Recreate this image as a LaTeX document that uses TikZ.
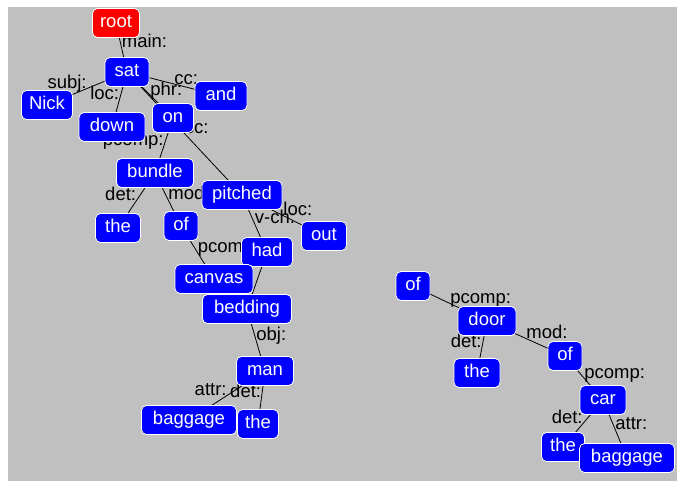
\documentclass[tikz,border=0pt]{standalone}
\usepackage{fontspec}
\setmainfont{Liberation Sans}
\newcommand{\dgfont}{\fontsize{18.5}{20}\selectfont}
\definecolor{graybg}{RGB}{192,192,192}
\pgfdeclarelayer{edgelayer}
\pgfsetlayers{edgelayer,main}
\begin{document}
\begin{tikzpicture}[x=1pt,y=-1pt,
  wn/.style={draw=white, line width=0.8pt, fill=blue, text=white, rounded corners=5pt,
    minimum height=29pt, inner sep=0pt, text height=13pt, text depth=4pt, font=\dgfont},
  rn/.style={wn, fill=red},
  lbl/.style={inner sep=0pt, text=black, font=\dgfont},
  lr/.style={lbl, midway, anchor=base west},
  ll/.style={lbl, midway, anchor=base east},
  ln/.style={black, line width=0.8pt}]
\begin{pgfonlayer}{edgelayer}
\fill[white] (0,0) rectangle (679,485);
\fill[graybg] (8,7) rectangle (677,481);
\end{pgfonlayer}
\useasboundingbox (0,0) rectangle (679,485);
% left tree
\node[rn, minimum width=47pt] (root) at (116,23) {root};
\node[wn, minimum width=44pt] (sat) at (127,72) {sat};
\node[wn, minimum width=51pt] (nick) at (47,105) {Nick};
\node[wn, minimum width=66pt] (down) at (112,127) {down};
\node[wn, minimum width=41pt] (on) at (173,118) {on};
\node[wn, minimum width=52pt] (and) at (221,96) {and};
\node[wn, minimum width=77pt] (bundle) at (155,173) {bundle};
\node[wn, minimum width=45pt] (theA) at (118,228) {the};
\node[wn, minimum width=34pt] (ofA) at (181,226) {of};
\node[wn, minimum width=80pt] (pitched) at (242,195) {pitched};
\node[wn, minimum width=45pt] (out) at (324,236) {out};
\node[wn, minimum width=51pt] (had) at (267,252) {had};
\node[wn, minimum width=78pt] (canvas) at (214,279) {canvas};
\node[wn, minimum width=89pt] (bedding) at (247,309) {bedding};
\node[wn, minimum width=57pt] (man) at (265,371) {man};
\node[wn, minimum width=95pt] (bagA) at (189,420) {baggage};
\node[wn, minimum width=41pt] (theB) at (258,424) {the};
% right tree
\node[wn, minimum width=34pt] (ofB) at (413,286) {of};
\node[wn, minimum width=58pt] (door) at (487,321) {door};
\node[wn, minimum width=46pt] (theC) at (477,373) {the};
\node[wn, minimum width=34pt] (ofC) at (565,356) {of};
\node[wn, minimum width=46pt] (car) at (603,400) {car};
\node[wn, minimum width=43pt] (theD) at (563,447) {the};
\node[wn, minimum width=95pt] (bagB) at (627,458) {baggage};
\begin{pgfonlayer}{edgelayer}
\draw[ln] (root.center) -- node[lr]{main:} (sat.center);
\draw[ln] (sat.center) -- node[ll]{subj:} (nick.center);
\draw[ln] (sat.center) -- node[ll]{loc:} (down.center);
\draw[ln] (sat.center) -- node[lr]{phr:} (on.center);
\draw[ln] (sat.center) -- node[lr]{cc:} (and.center);
\draw[ln] (sat.center) -- node[lr]{sc:} (pitched.center);
\draw[ln] (on.center) -- node[ll]{pcomp:} (bundle.center);
\draw[ln] (bundle.center) -- node[ll]{det:} (theA.center);
\draw[ln] (bundle.center) -- node[lr]{mod:} (ofA.center);
\draw[ln] (ofA.center) -- node[lr]{pcomp:} (canvas.center);
\draw[ln] (pitched.center) -- node[lr]{v-ch:} (had.center);
\draw[ln] (pitched.center) -- node[lr]{loc:} (out.center);
\draw[ln] (had.center) -- (bedding.center);
\draw[ln] (bedding.center) -- node[lr]{obj:} (man.center);
\draw[ln] (man.center) -- node[ll]{attr:} (bagA.center);
\draw[ln] (man.center) -- node[ll]{det:} (theB.center);
\draw[ln] (ofB.center) -- node[lr]{pcomp:} (door.center);
\draw[ln] (door.center) -- node[ll]{det:} (theC.center);
\draw[ln] (door.center) -- node[lr]{mod:} (ofC.center);
\draw[ln] (ofC.center) -- node[lr]{pcomp:} (car.center);
\draw[ln] (car.center) -- node[ll]{det:} (theD.center);
\draw[ln] (car.center) -- node[lr]{attr:} (bagB.center);
\end{pgfonlayer}
\end{tikzpicture}
\end{document}
